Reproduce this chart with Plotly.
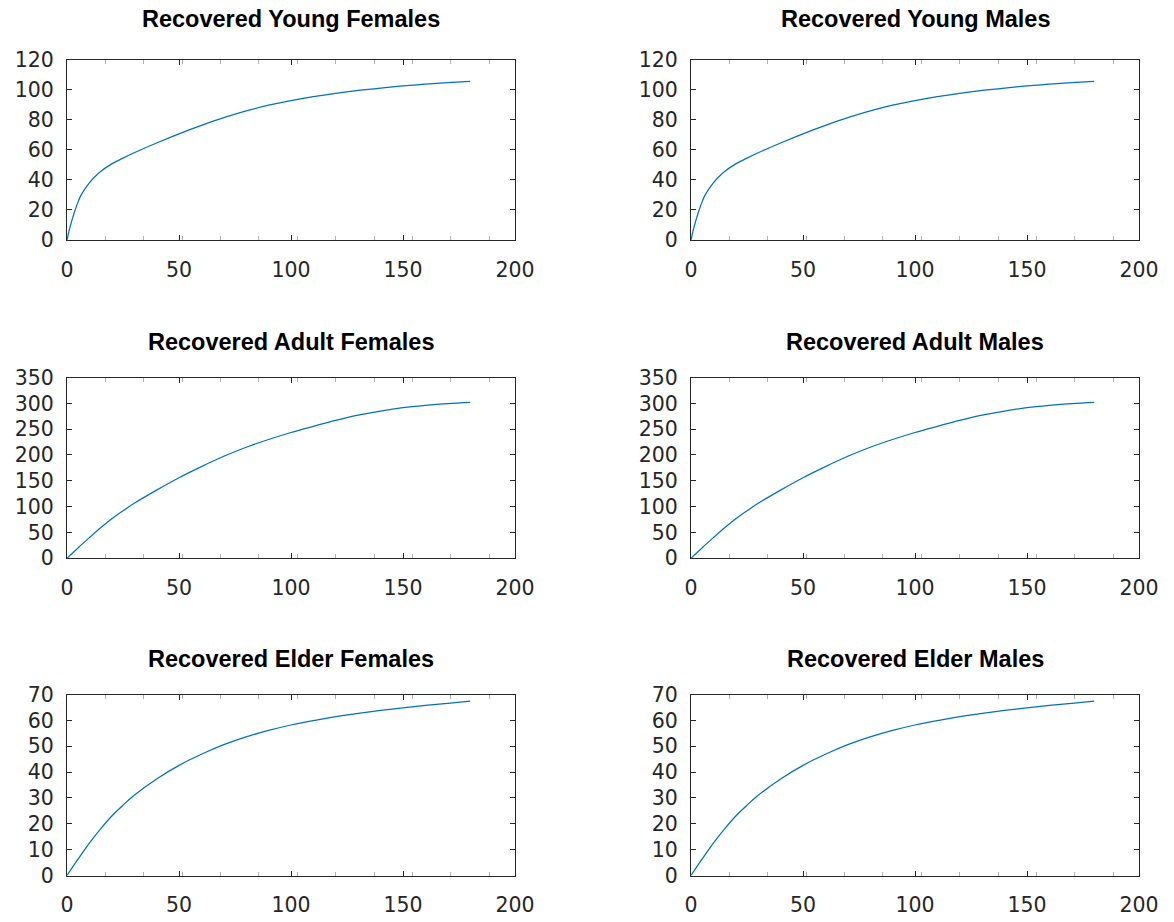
import plotly.graph_objects as go

# Day of simulation at which each value was recorded
young_days = [0, 1, 2, 3, 4, 5, 6, 8, 10, 12, 15, 20, 25, 30, 40, 50, 60, 70,
              80, 90, 100, 110, 120, 130, 140, 150, 160, 170, 180]
days = [0, 5, 10, 15, 20, 25, 30, 40, 50, 60, 70, 80, 90, 100, 110, 120,
        130, 140, 150, 160, 170, 180]

# Cumulative recovered population per group
young_females = [0, 6.5, 12, 17, 21.5, 25.5, 29, 34, 38, 41.4, 45.6, 50.6, 54.4,
                 58, 64.5, 70.6, 76.2, 81.3, 85.8, 89.6, 92.7, 95.3, 97.5, 99.4,
                 101.0, 102.4, 103.6, 104.6, 105.5]
young_males = [0, 6.5, 12, 17, 21.5, 25.5, 29, 34, 38, 41.4, 45.6, 50.6, 54.4,
               58, 64.5, 70.6, 76.2, 81.3, 85.8, 89.6, 92.7, 95.3, 97.5, 99.4,
               101.0, 102.4, 103.6, 104.6, 105.5]
adult_females = [0, 20.5, 40, 59, 76.5, 92, 106.5, 132, 156, 177.5, 197.5, 215,
                 230, 243.5, 255.5, 267, 277, 285, 291.5, 296, 299.5, 302]
adult_males = [0, 20.5, 40, 59, 76.5, 92, 106.5, 132, 156, 177.5, 197.5, 215,
               230, 243.5, 255.5, 267, 277, 285, 291.5, 296, 299.5, 302]
elder_females = [0, 6.4, 12.5, 18, 23, 27.2, 31, 37.3, 42.6, 46.9, 50.6, 53.6,
                 56.1, 58.2, 59.9, 61.4, 62.7, 63.85, 64.85, 65.75, 66.6, 67.4]
elder_males = [0, 6.4, 12.5, 18, 23, 27.2, 31, 37.3, 42.6, 46.9, 50.6, 53.6,
               56.1, 58.2, 59.9, 61.4, 62.7, 63.85, 64.85, 65.75, 66.6, 67.4]

panels = [
    ("Recovered Young Females", young_days, young_females, 120, 20),
    ("Recovered Young Males", young_days, young_males, 120, 20),
    ("Recovered Adult Females", days, adult_females, 350, 50),
    ("Recovered Adult Males", days, adult_males, 350, 50),
    ("Recovered Elder Females", days, elder_females, 70, 10),
    ("Recovered Elder Males", days, elder_males, 70, 10),
]

W, H = 1174, 922
col_px = [(67, 515), (691, 1139)]
row_px = [(59.5, 240), (377.5, 558.3), (694.5, 875.5)]
title_gap = [40.5, 35.5, 35.5]

LINE = "#0072BD"
AX = "#262626"
TICK_FONT = "DejaVu Sans, Liberation Sans, sans-serif"
TITLE_FONT = "Liberation Sans, Arial, sans-serif"

fig = go.Figure()
annotations = []
for i, (title, x, y, ymax, ystep) in enumerate(panels):
    r, c = divmod(i, 2)
    n = i + 1
    xa = "x" if n == 1 else f"x{n}"
    ya = "y" if n == 1 else f"y{n}"
    fig.add_trace(go.Scatter(
        x=x, y=y, mode="lines", xaxis=xa, yaxis=ya,
        line=dict(color=LINE, width=1.25, shape="spline", smoothing=1.0),
        showlegend=False, hoverinfo="x+y",
    ))
    x0, x1 = col_px[c]
    top, bot = row_px[r]
    xdom = [x0 / W, x1 / W]
    ydom = [1 - bot / H, 1 - top / H]
    common = dict(
        showline=True, linecolor=AX, linewidth=1, mirror="allticks",
        ticks="inside", ticklen=5, tickwidth=1, tickcolor=AX,
        showgrid=False, zeroline=False, automargin=False,
        tickfont=dict(family=TICK_FONT, size=20.5, color=AX),
    )
    fig.layout[f"xaxis{'' if n == 1 else n}"] = dict(
        domain=xdom, anchor=ya, range=[0, 200], tick0=0, dtick=50,
        ticklabelstandoff=11,
        minor=dict(ticks="inside", ticklen=4, tickcolor="#b0b0b0",
                   tick0=0, dtick=200 / 11.67),
        **common,
    )
    fig.layout[f"yaxis{'' if n == 1 else n}"] = dict(
        domain=ydom, anchor=xa, range=[0, ymax], tick0=0, dtick=ystep,
        ticklabelstandoff=8,
        **common,
    )
    annotations.append(dict(
        text=f"<b>{title}</b>", xref="paper", yref="paper",
        x=(x0 + x1) / 2 / W, y=1 - (top - title_gap[r]) / H,
        xanchor="center", yanchor="middle", showarrow=False,
        font=dict(family=TITLE_FONT, size=23.5, color="#000000"),
    ))

fig.update_layout(
    width=W, height=H, margin=dict(l=0, r=0, t=0, b=0, autoexpand=False),
    paper_bgcolor="white", plot_bgcolor="white",
    annotations=annotations,
)

fig.write_html("out.html")
